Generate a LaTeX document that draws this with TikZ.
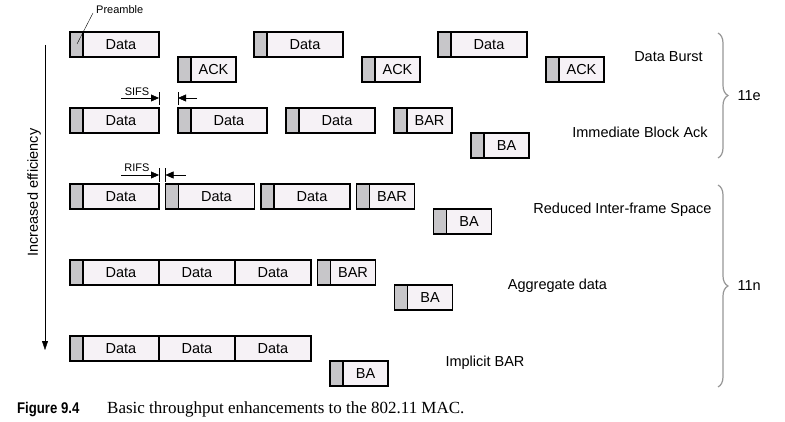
\documentclass[tikz,border=0pt]{standalone}
\usepackage{fontspec}
\setmainfont{Liberation Sans}
\newfontfamily\capserif{Liberation Serif}
\usetikzlibrary{positioning,arrows.meta,decorations.pathreplacing}
\definecolor{bodyfill}{RGB}{246,242,246}
\definecolor{pregray}{RGB}{199,198,201}
\definecolor{bracegray}{RGB}{150,150,150}
\tikzset{
  pre/.style={draw, fill=pregray, line width=1.2pt, minimum width=13pt, minimum height=25pt, inner sep=0pt, outer sep=0pt, anchor=north west},
  body/.style={draw, fill=bodyfill, line width=1.2pt, minimum height=25pt, inner sep=0pt, outer sep=0pt, font=\fontsize{14.5}{16}\selectfont},
  data/.style={body, minimum width=76pt},
  ctrl/.style={body, minimum width=45pt},
  lbl/.style={inner sep=0pt, font=\fontsize{14.5}{16}\selectfont},
  small/.style={inner sep=0pt, font=\fontsize{11}{12}\selectfont},
  gap/.style={-{Triangle[length=8pt,width=7pt]}},
  grp/.style={bracegray, line width=1.2pt, decorate, decoration={brace, amplitude=10pt}},
}
\begin{document}
\begin{tikzpicture}[x=1pt,y=-1pt]
	\useasboundingbox (0,0) rectangle (785,422);
	
	% data burst
	\node[pre] (p11) at (70,32) {};
	\node[data, right=0pt of p11] (d11) {Data};
	\node[pre, below right=0pt and 19pt of d11] (q11) {};
	\node[ctrl, right=0pt of q11] (a11) {ACK};
	\node[pre, above right=0pt and 18pt of a11] (p12) {};
	\node[data, right=0pt of p12] (d12) {Data};
	\node[pre, below right=0pt and 19pt of d12] (q12) {};
	\node[ctrl, right=0pt of q12] (a12) {ACK};
	\node[pre, above right=0pt and 18pt of a12] (p13) {};
	\node[data, right=0pt of p13] (d13) {Data};
	\node[pre, below right=0pt and 19pt of d13] (q13) {};
	\node[ctrl, right=0pt of q13] (a13) {ACK};
	
	% immediate block ack
	\node[pre] (p21) at (70,108) {};
	\node[data, right=0pt of p21] (d21) {Data};
	\node[pre, right=19pt of d21] (p22) {};
	\node[data, right=0pt of p22] (d22) {Data};
	\node[pre, right=19pt of d22] (p23) {};
	\node[data, right=0pt of p23] (d23) {Data};
	\node[pre, right=19pt of d23] (p24) {};
	\node[ctrl, right=0pt of p24] (r24) {BAR};
	\node[pre, below right=0pt and 19pt of r24] (q25) {};
	\node[ctrl, right=0pt of q25] (b25) {BA};
	
	\draw ([yshift=3pt]d21.north east) -- ([yshift=16pt]d21.north east);
	\draw ([yshift=3pt]p22.north west) -- ([yshift=16pt]p22.north west);
	\draw[gap] ([shift={(-38pt,10pt)}]d21.north east) -- ([yshift=10pt]d21.north east);
	\draw[gap] ([shift={(19pt,10pt)}]p22.north west) -- ([yshift=10pt]p22.north west);
	\node[small, anchor=south] (sifs) at ([shift={(-22pt,12.5pt)}]d21.north east) {SIFS};
	
	% reduced inter-frame space
	\node[pre] (p31) at (70,184) {};
	\node[data, right=0pt of p31] (d31) {Data};
	\node[pre, right=6.5pt of d31] (p32) {};
	\node[data, right=0pt of p32] (d32) {Data};
	\node[pre, right=6.5pt of d32] (p33) {};
	\node[data, right=0pt of p33] (d33) {Data};
	\node[pre, right=6.5pt of d33] (p34) {};
	\node[ctrl, right=0pt of p34] (r34) {BAR};
	\node[pre, below right=0pt and 19pt of r34] (q35) {};
	\node[ctrl, right=0pt of q35] (b35) {BA};
	
	\draw ([yshift=2pt]d31.north east) -- ([yshift=16pt]d31.north east);
	\draw ([yshift=2pt]p32.north west) -- ([yshift=16pt]p32.north west);
	\draw[gap] ([shift={(-38pt,9pt)}]d31.north east) -- ([yshift=9pt]d31.north east);
	\draw[gap] ([shift={(20pt,9pt)}]p32.north west) -- ([yshift=9pt]p32.north west);
	\node[small, anchor=south] (rifs) at ([shift={(-22pt,12pt)}]d31.north east) {RIFS};
	
	% aggregate data
	\node[pre] (p41) at (70,260) {};
	\node[data, right=0pt of p41] (d41) {Data};
	\node[data, right=0pt of d41] (d42) {Data};
	\node[data, right=0pt of d42] (d43) {Data};
	\node[pre, right=6.5pt of d43] (p44) {};
	\node[ctrl, right=0pt of p44] (r44) {BAR};
	\node[pre, below right=0pt and 19pt of r44] (q45) {};
	\node[ctrl, right=0pt of q45] (b45) {BA};
	
	% implicit bar
	\node[pre] (p51) at (70,336) {};
	\node[data, right=0pt of p51] (d51) {Data};
	\node[data, right=0pt of d51] (d52) {Data};
	\node[data, right=0pt of d52] (d53) {Data};
	\node[pre, below right=0pt and 19pt of d53] (q54) {};
	\node[ctrl, right=0pt of q54] (b54) {BA};
	
	% preamble callout
	\node[small, anchor=south west] (prelbl) at (96,14) {Preamble};
	\draw ([shift={(7pt,-12pt)}]p11.north west) -- ([shift={(-3pt,1pt)}]prelbl.south west);
	
	% efficiency arrow
	\coordinate (efftop) at (45,45);
	\coordinate (effbot) at (45,350);
	\draw[-{Triangle[length=9pt,width=6pt]}] (efftop) -- (effbot)
		node[pos=0.484, lbl, rotate=90, anchor=south, inner ysep=4pt] (eff) {Increased efficiency};
	
	% scheme names
	\node[lbl, anchor=base] (burst) at (668.5,62) {Data Burst};
	\node[lbl, anchor=base] (iback) at (640,138) {Immediate Block Ack};
	\node[lbl, anchor=base] (rifsn) at (622.5,214) {Reduced Inter-frame Space};
	\node[lbl, anchor=base] (aggr) at (557.5,290) {Aggregate data};
	\node[lbl, anchor=base] (ibar) at (485,366) {Implicit BAR};
	
	% standards
	\coordinate (etop) at (718,33);
	\coordinate (ebot) at (718,158);
	\coordinate (ntop) at (718,185);
	\coordinate (nbot) at (718,387);
	\draw[grp] (etop) -- (ebot) node[midway, lbl, text=black, right=19pt] (e11) {11e};
	\draw[grp] (ntop) -- (nbot) node[midway, lbl, text=black, right=19pt] (n11) {11n};
	
	% caption
	\node[anchor=base west, inner sep=0pt, xscale=0.85, font=\bfseries\fontsize{15.5}{17}\selectfont] (fig) at (17,413) {Figure 9.4};
	\node[anchor=base west, inner sep=0pt, font=\capserif\fontsize{17}{19}\selectfont] (cap) at (107,413) {Basic throughput enhancements to the 802.11 MAC.};
\end{tikzpicture}
\end{document}
